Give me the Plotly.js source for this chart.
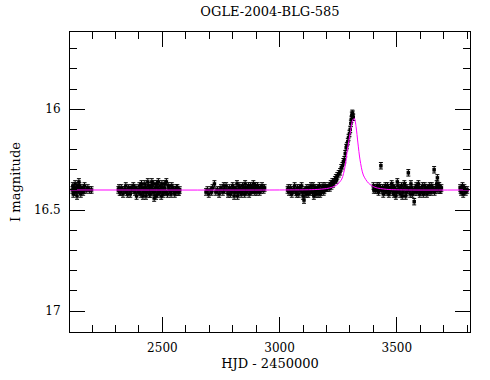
<!DOCTYPE html>
<html>
<head>
<meta charset="utf-8">
<script src="https://cdn.plot.ly/plotly-3.0.1.min.js"></script>
<style>
html,body{margin:0;padding:0;background:#fff;}
#chart{width:490px;height:380px;}
</style>
</head>
<body>
<div id="chart"></div>
<script>
// Observations (HJD - 2450000, I magnitude)
const hjd = [
  2116,2120,2124,2128,2132,2136,2140,2144,2148,2152,2157,2162,2168,2175,2182,2190,2198,
  2118,2126,2134,2142,2146,2154,2165,
  2312,2318,2325,2332,2340,2348,2356,2363,2370,2376,2383,2390,2396,2402,2408,2414,2420,2425,2430,2435,
  2440,2445,2450,2455,2460,2465,2470,2475,2480,2485,2490,2495,2500,2505,2510,2517,2522,2528,2534,2540,
  2547,2553,2560,2567,2574,
  2315,2322,2336,2344,2352,2360,2367,2380,2387,2399,2405,2411,2417,2423,2428,2433,2438,2443,2448,2453,
  2458,2463,2468,2473,2478,2483,2488,2493,2498,2503,2508,2513,2525,2531,2537,2544,2550,2557,2564,2571,
  2686,2692,2698,2706,2714,2722,2728,2735,2742,2750,2758,2765,2772,2780,2787,2793,2800,2806,2812,2818,
  2824,2830,2836,2842,2848,2853,2858,2864,2870,2876,2882,2888,2894,2900,2906,2912,2918,2925,2932,2936,
  2710,2746,2762,2776,2790,2797,2803,2809,2815,2821,2827,2833,2839,2845,2851,2856,2861,2867,2873,2879,
  2885,2891,2897,2903,2909,2915,2921,2928,
  3034,3040,3046,3052,3058,3064,3070,3076,3082,3088,3094,3100,3104,3110,3116,3122,3128,3134,3140,3146,
  3152,3158,3164,3170,3176,3182,3188,3194,3200,3210,3218,3225,3232,3240,3246,3252,3258,3263,3268,3272,
  3276,3280,3284,3287,3291,3294,3298,3301,3304,3306,3308,3310,3312,3314,
  3037,3049,3061,3073,3085,3097,3107,3113,3119,3125,3131,3137,3143,3149,3155,3161,3167,3173,3179,3185,
  3191,3197,3205,3214,3221,3228,3236,3243,
  3400,3405,3410,3416,3422,3428,3432,3436,3442,3448,3454,3460,3466,3472,3478,3484,3490,3496,3502,3508,
  3514,3520,3526,3532,3538,3544,3549,3554,3560,3566,3574,3580,3586,3592,3598,3604,3610,3616,3622,3628,
  3634,3640,3646,3652,3659,3664,3670,3673,3678,3684,3690,
  3402,3413,3419,3425,3439,3445,3451,3457,3463,3469,3475,3481,3487,3493,3499,3505,3511,3517,3523,3529,
  3535,3541,3547,3557,3563,3569,3577,3583,3589,3595,3601,3607,3613,3619,3625,3631,3637,3643,3649,3655,
  3661,3667,3675,3681,3687,
  3770,3774,3778,3783,3788,3794,3800,3772,3780,3791
];
const mag = [
  16.40,16.42,16.39,16.37,16.41,16.43,16.38,16.36,16.40,16.42,16.39,16.41,16.38,16.40,16.39,16.40,16.40,
  16.38,16.41,16.39,16.40,16.38,16.40,16.40,
  16.40,16.41,16.39,16.42,16.40,16.41,16.39,16.42,16.40,16.38,16.41,16.43,16.40,16.38,16.42,16.39,16.41,16.37,16.43,16.40,
  16.38,16.42,16.39,16.36,16.41,16.44,16.39,16.37,16.42,16.40,16.38,16.43,16.39,16.41,16.37,16.36,16.42,16.39,16.41,16.38,
  16.40,16.42,16.39,16.41,16.40,
  16.39,16.41,16.40,16.38,16.42,16.40,16.39,16.40,16.39,16.41,16.40,16.37,16.43,16.40,16.39,16.41,16.36,16.40,16.42,16.38,
  16.40,16.37,16.41,16.43,16.39,16.36,16.41,16.40,16.37,16.42,16.39,16.41,16.38,16.40,16.42,16.39,16.40,16.41,16.39,16.41,
  16.41,16.40,16.42,16.40,16.39,16.37,16.41,16.40,16.42,16.39,16.41,16.40,16.38,16.42,16.39,16.41,16.38,16.43,16.40,16.37,
  16.41,16.39,16.42,16.38,16.40,16.37,16.41,16.39,16.42,16.38,16.40,16.37,16.41,16.39,16.38,16.40,16.39,16.38,16.40,16.39,
  16.41,16.40,16.38,16.40,16.42,16.40,16.39,16.41,16.40,16.43,16.38,16.40,16.41,16.39,16.42,16.39,16.40,16.38,16.40,16.41,
  16.39,16.40,16.38,16.41,16.39,16.41,16.40,16.39,
  16.40,16.41,16.39,16.42,16.40,16.38,16.41,16.39,16.42,16.40,16.38,16.43,16.45,16.41,16.39,16.42,16.40,16.38,16.41,16.43,
  16.39,16.40,16.42,16.38,16.41,16.39,16.41,16.38,16.39,16.38,16.37,16.36,16.36,16.34,16.33,16.32,16.31,16.29,16.28,16.26,
  16.25,16.22,16.19,16.18,16.16,16.14,16.12,16.10,16.07,16.05,16.03,16.02,16.025,16.04,
  16.39,16.41,16.40,16.42,16.39,16.41,16.40,16.42,16.40,16.39,16.41,16.40,16.38,16.41,16.42,16.39,16.40,16.42,16.40,16.38,
  16.40,16.39,16.39,16.39,16.38,16.37,16.35,16.35,
  16.38,16.39,16.40,16.38,16.41,16.39,16.28,16.40,16.42,16.39,16.41,16.38,16.42,16.40,16.37,16.41,16.39,16.43,16.36,16.40,
  16.42,16.38,16.41,16.37,16.43,16.39,16.315,16.40,16.37,16.42,16.458,16.39,16.41,16.37,16.42,16.40,16.38,16.41,16.39,16.42,
  16.40,16.38,16.41,16.39,16.30,16.40,16.37,16.34,16.38,16.40,16.39,
  16.40,16.39,16.40,16.38,16.39,16.40,16.38,16.40,16.39,16.41,16.39,16.38,16.42,16.40,16.41,16.38,16.40,16.39,16.43,16.40,
  16.38,16.41,16.40,16.42,16.39,16.40,16.41,16.38,16.40,16.39,16.41,16.40,16.42,16.38,16.40,16.39,16.41,16.40,16.38,16.40,
  16.41,16.39,16.40,16.38,16.40,
  16.39,16.41,16.40,16.42,16.39,16.41,16.40,16.40,16.38,16.40
];
const magErr = 0.016;

// Model light curve
const modelHjd = [2106,3000,3150,3200,3225,3244,3265,3279,3289,3301,3312,3319,3326,3334,3343,3357,3379,3407,3457,3550,3812];
const modelMag = [16.400,16.400,16.398,16.393,16.386,16.375,16.346,16.285,16.202,16.118,16.053,16.045,16.086,16.167,16.251,16.326,16.366,16.387,16.397,16.400,16.400];

const FONT = 'DejaVu Serif, Liberation Serif, serif';

const traces = [
  {
    x: hjd, y: mag, type: 'scatter', mode: 'markers',
    marker: {symbol: 'square', size: 3.5, color: '#000'},
    error_y: {type: 'constant', value: magErr, color: '#000', thickness: 1, width: 2},
    hoverinfo: 'skip', showlegend: false
  },
  {
    x: modelHjd, y: modelMag, type: 'scatter', mode: 'lines',
    line: {color: '#ff00ff', width: 1, shape: 'spline', smoothing: 0.8},
    hoverinfo: 'skip', showlegend: false
  }
];

const axisCommon = {
  showline: true, linecolor: '#000', linewidth: 1, mirror: 'allticks',
  ticks: 'inside', ticklen: 15, tickwidth: 1, tickcolor: '#000',
  showgrid: false, zeroline: false,
  tickfont: {family: FONT, size: 12, color: '#000'}
};

const layout = {
  width: 490, height: 380,
  margin: {l: 70, r: 20, t: 32, b: 48},
  paper_bgcolor: '#fff', plot_bgcolor: '#fff',
  font: {family: FONT, color: '#000'},
  title: {text: 'OGLE-2004-BLG-585', font: {family: FONT, size: 13, color: '#000'},
          xref: 'paper', x: 0.5, xanchor: 'center', yref: 'container', y: 0.971, yanchor: 'middle'},
  xaxis: Object.assign({}, axisCommon, {
    range: [2106, 3812], tick0: 2500, dtick: 500,
    ticklabelstandoff: 5,
    minor: {dtick: 100, tick0: 2500, ticks: 'inside', ticklen: 7, tickwidth: 1, tickcolor: '#000', showgrid: false},
    title: {text: 'HJD - 2450000', font: {family: FONT, size: 13, color: '#000'}, standoff: 4}
  }),
  yaxis: Object.assign({}, axisCommon, {
    range: [17.104, 15.617], tick0: 16, dtick: 0.5,
    ticklabelstandoff: 6,
    minor: {dtick: 0.1, tick0: 16, ticks: 'inside', ticklen: 7, tickwidth: 1, tickcolor: '#000', showgrid: false},
    title: {text: 'I magnitude', font: {family: FONT, size: 13, color: '#000'}, standoff: 10}
  })
};

Plotly.newPlot('chart', traces, layout, {staticPlot: true, displayModeBar: false});
</script>
</body>
</html>
